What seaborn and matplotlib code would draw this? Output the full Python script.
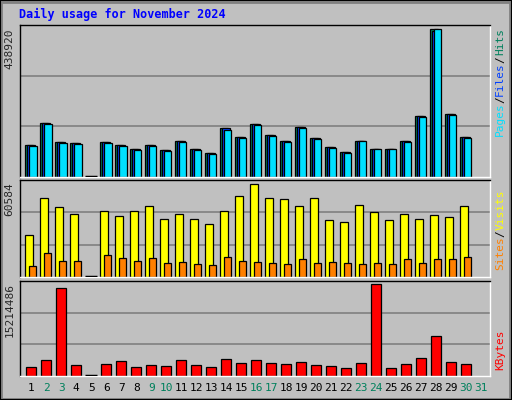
import matplotlib

matplotlib.use("Agg")
import matplotlib.pyplot as plt
import numpy as np
import pandas as pd
import seaborn as sns

DAYS = list(range(1, 31))
HITS = [93570, 157240, 102260, 99360, 0, 102260, 93570, 82000, 93570, 79100,
        105150, 82000, 70420, 142770, 116720, 154350, 122510, 105150, 145670, 113830,
        87790, 73320, 105150, 82000, 82000, 105150, 177500, 426390, 183290, 116720]
FILES = [h * 0.99 for h in HITS]
PAGES = [90700, 154300, 99400, 96500, 0, 99400, 90700, 79100, 90700, 76200,
         102300, 79100, 67500, 136900, 113800, 151500, 119600, 102300, 142800, 110900,
         84900, 70400, 105150, 82000, 80000, 102300, 174600, 426390, 180400, 113800]
VISITS = [26530, 49090, 43450, 39070, 0, 40950, 37810, 40950, 44080, 35930,
          39070, 35930, 32800, 40950, 50350, 57870, 49090, 48470, 44080, 49090,
          35310, 34050, 44710, 40320, 35310, 39070, 35930, 38440, 37190, 44080]
SITES = [7100, 15250, 10240, 10240, 0, 14000, 12120, 10240, 12120, 8980,
         9610, 8360, 7730, 12740, 10240, 9610, 8980, 8360, 11490, 8980,
         9610, 8980, 8360, 8980, 8360, 11490, 8980, 11490, 11490, 12740]
KBYTES = [1500000, 2625000, 14036000, 1821000, 0, 1982000, 2464000, 1500000, 1821000, 1661000,
          2625000, 1821000, 1500000, 2786000, 2143000, 2625000, 2143000, 1982000, 2304000, 1821000,
          1661000, 1339000, 2143000, 14679000, 1339000, 1982000, 2946000, 6482000, 2304000, 1982000]
MAX_TOP, MAX_MID, MAX_BOT = 438920, 60584, 15214486
TICK_DAYS = list(range(1, 32))
WEEKENDS = {2, 3, 9, 10, 16, 17, 23, 24, 30, 31}

BG = "#C0C0C0"
MONO = "DejaVu Sans Mono"

sns.set_style("white")
plt.rcParams["font.family"] = MONO

fig = plt.figure(figsize=(5.12, 4.0), dpi=100, facecolor=BG)
# 3d-ish outer frame
fig.patches.append(plt.Rectangle((0.002, 0.002), 0.994, 0.994, transform=fig.transFigure,
                                 fill=False, edgecolor="#808080", linewidth=2))
fig.patches.append(plt.Rectangle((0.0, 0.0), 1, 1, transform=fig.transFigure,
                                 fill=False, edgecolor="black", linewidth=1.5))

ax_top = fig.add_axes([0.039, 0.5575, 0.919, 0.38])
ax_mid = fig.add_axes([0.039, 0.3075, 0.919, 0.2425])
ax_bot = fig.add_axes([0.039, 0.06, 0.919, 0.2375])

days = np.array(DAYS, dtype=float)


def bars(ax, offset, values, width, color):
    df = pd.DataFrame({"x": days + offset, "y": values})
    sns.barplot(data=df, x="x", y="y", native_scale=True, width=width, color=color,
                saturation=1, edgecolor="black", linewidth=0.9, ax=ax)


bars(ax_top, -0.13, HITS, 0.53, "#00805C")
bars(ax_top, -0.02, FILES, 0.5, "#0040FF")
bars(ax_top, 0.11, PAGES, 0.49, "#00E0FF")
bars(ax_mid, -0.13, VISITS, 0.55, "#FFFF00")
bars(ax_mid, 0.11, SITES, 0.45, "#FF8000")
bars(ax_bot, 0.0, KBYTES, 0.7, "#FF0000")

# empty days show as a flat black stub on the baseline
for ax, values in [(ax_top, HITS), (ax_mid, VISITS), (ax_bot, KBYTES)]:
    zero = days[np.array(values) == 0]
    ax.hlines(np.zeros_like(zero), zero - 0.4, zero + 0.4, color="black",
              linewidth=2.5, zorder=5)

for ax, top, label in [(ax_top, MAX_TOP, "438920"), (ax_mid, MAX_MID, "60584"),
                       (ax_bot, MAX_BOT, "15214486")]:
    ax.set_facecolor(BG)
    ax.set_xlim(0.25, 31.63)
    ax.set_ylim(0, top)
    for frac in (1 / 3, 2 / 3):
        ax.axhline(top * frac, color="#808080", linewidth=1.2, zorder=0)
    ax.set_xlabel("")
    ax.set_ylabel("")
    ax.set_yticks([])
    ax.set_xticks([])
    for side in ("top", "left"):
        ax.spines[side].set_color("black")
    for side in ("bottom", "right"):
        ax.spines[side].set_color("white")
    for sp in ax.spines.values():
        sp.set_linewidth(1)
    ax.text(-0.012, 0.98, label, transform=ax.transAxes, rotation=90, ha="right",
            va="top", fontsize=8)

ax_bot.set_xticks(TICK_DAYS)
ax_bot.set_xticklabels([str(d) for d in TICK_DAYS], fontsize=8)
ax_bot.tick_params(axis="x", length=0, pad=5)
for t, d in zip(ax_bot.get_xticklabels(), TICK_DAYS):
    t.set_color("#00805C" if d in WEEKENDS else "black")

fig.text(0.037, 0.963, "Daily usage for November 2024", color="#0000FF",
         fontweight="bold", fontsize=8.5, ha="left", va="center")


def side_label(parts, y_bottom):
    y = y_bottom
    for text, color in parts:
        fig.text(0.977, y, text, color=color, rotation=90, fontsize=8,
                 ha="center", va="bottom")
        y += len(text) * 0.0155 + 0.004


side_label([("Pages", "#00E0FF"), ("/", "black"), ("Files", "#0040FF"),
            ("/", "black"), ("Hits", "#00805C")], 0.66)
side_label([("Sites", "#FF8000"), ("/", "black"), ("Visits", "#FFFF00")], 0.325)
side_label([("KBytes", "#FF0000")], 0.075)

fig.savefig("out.png", dpi=100, facecolor=BG)
